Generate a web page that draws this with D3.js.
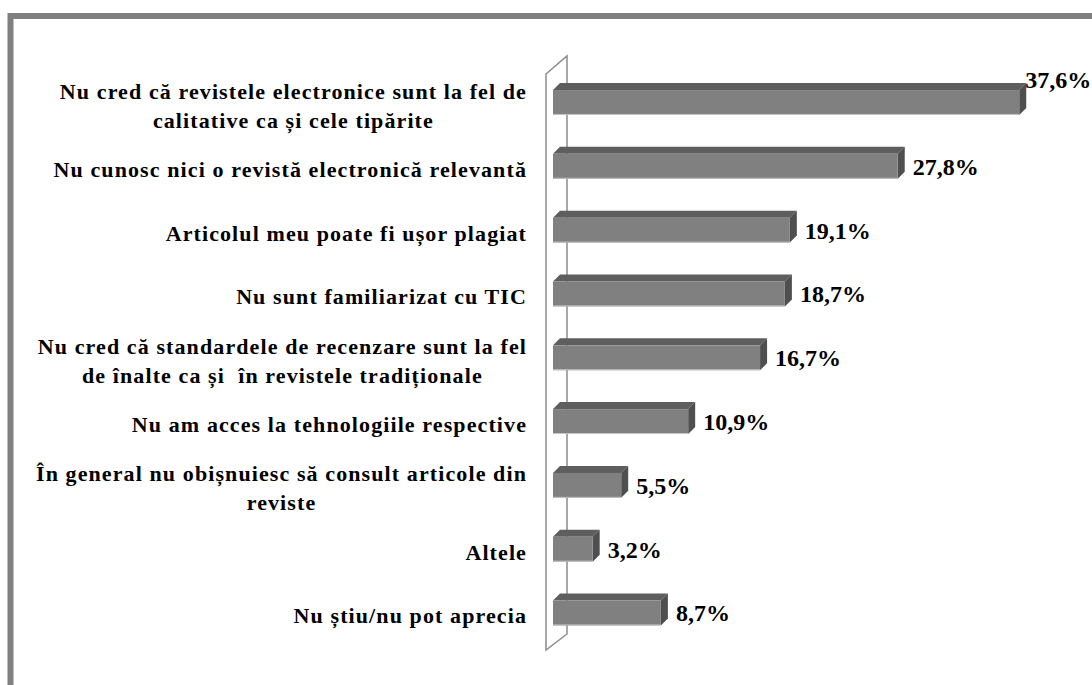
<!DOCTYPE html>
<html>
  <head>
    <meta charset="utf-8">
    <title>Motive</title>
    <script type="text/javascript" src="https://cdn.jsdelivr.net/npm/d3@7"></script>
    <style type="text/css">
      body {
        margin: 0;
        background: #fff;
      }
      text {
        font-family: "Liberation Serif", "Times New Roman", serif;
        font-weight: bold;
        fill: #000;
        white-space: pre;
      }
    </style>
  </head>
  <body>
  </body>
  <script type="text/javascript">

  var categories = [
    ['Nu cred că revistele electronice sunt la fel de', 'calitative ca și cele tipărite'],
    ['Nu cunosc nici o revistă electronică relevantă'],
    ['Articolul meu poate fi ușor plagiat'],
    ['Nu sunt familiarizat cu TIC'],
    ['Nu cred că standardele de recenzare sunt la fel', 'de înalte ca și  în revistele tradiționale'],
    ['Nu am acces la tehnologiile respective'],
    ['În general nu obișnuiesc să consult articole din', 'reviste'],
    ['Altele'],
    ['Nu știu/nu pot aprecia']
  ]
  var values = [37.6, 27.8, 19.1, 18.7, 16.7, 10.9, 5.5, 3.2, 8.7]
  var valueLabels = ['37,6%', '27,8%', '19,1%', '18,7%', '16,7%', '10,9%', '5,5%', '3,2%', '8,7%']

  var W = 1092, H = 685
  var depth = 7   // 3d offset of the bars

  var svg = d3.select('body')
    .append('svg')
      .attr('width', W)
      .attr('height', H)

  // outer frame (only top and left edges are in view)
  svg.append('rect')
    .attr('x', 10.5).attr('y', 16)
    .attr('width', W + 50).attr('height', H + 50)
    .attr('fill', '#fff')
    .attr('stroke', '#808080')
    .attr('stroke-width', 6)

  var idx = d3.range(values.length)

  var x = d3.scaleLinear().domain([0, 40]).range([553, 553 + 40 * 12.4])
  var y = d3.scaleBand().domain(idx)
    .range([70.6, 644.9])
    .paddingInner(0.61)
    .paddingOuter(0.305)

  // the 3d wall
  svg.append('path')
    .attr('fill', 'none')
    .attr('stroke', '#8c8c8c')
    .attr('stroke-width', 1.5)
    .attr('d', 'M546,650 L546,74 L567,56 L567,634 Z')

  var bars = svg.selectAll('g.bar').data(idx)
    .enter().append('g')
      .attr('class', 'bar')

  // top face
  bars.append('path')
    .attr('fill', '#5e5e5e')
    .attr('d', function(i) {
      var x0 = x(0), x1 = x(values[i]), y0 = y(i)
      return 'M' + x0 + ',' + y0 + 'L' + (x0 + depth) + ',' + (y0 - depth) +
        'L' + (x1 + depth) + ',' + (y0 - depth) + 'L' + x1 + ',' + y0 + 'Z'
    })
  // side face
  bars.append('path')
    .attr('fill', '#4f4f4f')
    .attr('d', function(i) {
      var x1 = x(values[i]), y0 = y(i), h = y.bandwidth()
      return 'M' + x1 + ',' + y0 + 'L' + (x1 + depth) + ',' + (y0 - depth) +
        'L' + (x1 + depth) + ',' + (y0 + h - depth) + 'L' + x1 + ',' + (y0 + h) + 'Z'
    })
  // front face
  bars.append('rect')
    .attr('x', x(0))
    .attr('y', function(i) { return y(i) })
    .attr('width', function(i) { return x(values[i]) - x(0) })
    .attr('height', y.bandwidth())
    .attr('fill', '#808080')
  bars.append('line')
    .attr('x1', x(0))
    .attr('x2', function(i) { return x(values[i]) })
    .attr('y1', function(i) { return y(i) + y.bandwidth() - 0.5 })
    .attr('y2', function(i) { return y(i) + y.bandwidth() - 0.5 })
    .attr('stroke', '#c4c4c4')

  // value labels
  bars.append('text')
    .attr('font-size', 24)
    .text(function(i) { return valueLabels[i] })
    .each(function(i) {
      var t = d3.select(this)
      var w = this.getComputedTextLength()
      var cx = x(values[i]) + 15
      var cy = y(i) + y.bandwidth() / 2 + 8.5
      if (cx + w > W) {   // no room: pushed up against the bar end
        cx = x(values[i]) + 6
        cy -= 23
      }
      t.attr('x', cx).attr('y', cy)
    })

  // category labels, right aligned block, lines centred in it
  var labelRight = 527
  var lh = 29
  svg.selectAll('g.cat').data(idx)
    .enter().append('g')
      .attr('class', 'cat')
      .each(function(i) {
        var g = d3.select(this)
        var lines = categories[i]
        var mid = y(i) + y.bandwidth() / 2 + 3
        var texts = lines.map(function(s, j) {
          return g.append('text')
            .attr('font-size', 22)
            .attr('letter-spacing', 1.1)
            .attr('text-anchor', 'middle')
            .attr('y', mid + (j - (lines.length - 1) / 2) * lh + 7.5)
            .text(s)
        })
        var bw = d3.max(texts, function(t) { return t.node().getComputedTextLength() })
        texts.forEach(function(t) { t.attr('x', labelRight - bw / 2) })
      })

  </script>
</html>
